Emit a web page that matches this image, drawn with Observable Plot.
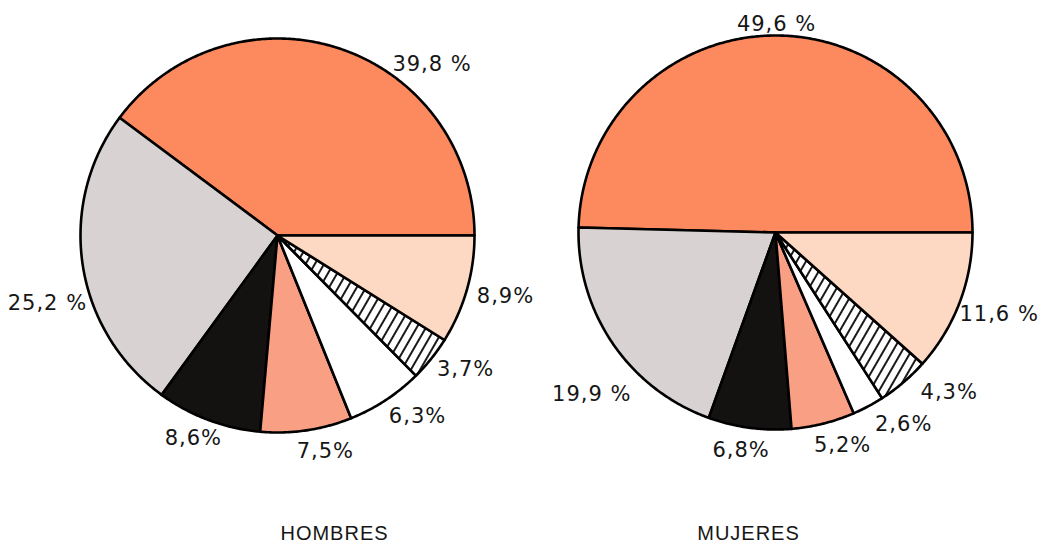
<!DOCTYPE html>
<html><head><meta charset="utf-8">
<script src="https://cdn.jsdelivr.net/npm/d3@7"></script>
<script src="https://cdn.jsdelivr.net/npm/@observablehq/plot@0.6"></script>
<style>
html,body{margin:0;padding:0;background:#fff;}
</style>
</head><body><div id="chart"></div>
<script>
// ---- data ----
const categories = ["naranja", "gris", "negro", "salmón", "blanco", "rayado", "melocotón"];
const hombres = [39.8, 25.2, 8.6, 7.5, 6.3, 3.7, 8.9];
const mujeres = [49.6, 19.9, 6.8, 5.2, 2.6, 4.3, 11.6];
const groupNames = ["HOMBRES", "MUJERES"];
// whether the printed label has a space before "%"
const spacedHombres = [true, true, false, false, false, false, false];
const spacedMujeres = [true, true, false, false, false, false, true];

// ---- styles / layout ----
const sliceColors = ["#fd8a5e", "#d8d2d2", "#141111", "#f9a084", "#ffffff", "url(#hatch)", "#fdd8c2"];
const W = 1039, H = 542;
const pieLayout = [
  {cx: 277, cy: 235, r: 197, titleDx: 57, titleY: 539,
   labelAngle: [48, 196.5, 247.5, 282.5, 307.7, 324.5, 345],
   labelDist:  [231, 240, 220, 221, 229, 231, 236]},
  {cx: 775, cy: 232, r: 197, titleDx: -27, titleY: 539,
   labelAngle: [89.7, 221.4, 261, 287.5, 303.7, 317.4, 340],
   labelDist:  [208, 245, 220, 223, 231, 236, 238]}
];
const series = [hombres, mujeres];
const spaced = [spacedHombres, spacedMujeres];

const fmt = (v, sp) => v.toFixed(1).replace(".", ",") + (sp ? " %" : "%");

const marks = [];
const labels = [];
const titles = [];
series.forEach((vals, g) => {
  const L = pieLayout[g];
  const total = d3.sum(vals);
  let acc = 0;
  vals.forEach((v, i) => {
    const a0 = acc / total * 2 * Math.PI;
    acc += v;
    const a1 = acc / total * 2 * Math.PI;
    const n = Math.max(2, Math.ceil((a1 - a0) / (Math.PI / 360)));
    const pts = [{x: L.cx, y: L.cy}];
    for (let k = 0; k <= n; k++) {
      const t = a0 + (a1 - a0) * k / n;
      pts.push({x: L.cx + L.r * Math.cos(t), y: L.cy - L.r * Math.sin(t)});
    }
    marks.push(Plot.line(pts, {
      x: "x", y: "y", curve: "linear-closed",
      fill: sliceColors[i], stroke: "#000", strokeWidth: 2.6, strokeLinejoin: "round"
    }));
    const la = L.labelAngle[i] * Math.PI / 180;
    labels.push({
      x: L.cx + L.labelDist[i] * Math.cos(la),
      y: L.cy - L.labelDist[i] * Math.sin(la),
      text: fmt(v, spaced[g][i]), category: categories[i]
    });
  });
  titles.push({x: L.cx + L.titleDx, y: L.titleY, text: groupNames[g]});
});

marks.push(Plot.text(labels, {
  x: "x", y: "y", text: "text", fontSize: 21, fontFamily: "DejaVu Sans",
  textAnchor: "middle", lineAnchor: "middle", fill: "#161616"
}));
marks.push(Plot.text(titles, {
  x: "x", y: "y", text: "text", fontSize: 20, fontFamily: "Liberation Sans",
  textAnchor: "middle", lineAnchor: "bottom", fill: "#161616"
}));

const svg = Plot.plot({
  width: W, height: H, margin: 0,
  x: {domain: [0, W], range: [0, W], axis: null},
  y: {domain: [0, H], range: [0, H], axis: null},
  style: "background:#fff;letter-spacing:1px;",
  marks
});

d3.select(svg).insert("defs", ":first-child").html(
  `<pattern id="hatch" patternUnits="userSpaceOnUse" width="8" height="8" patternTransform="rotate(30)">
     <rect width="8" height="8" fill="#fff"/>
     <line x1="4" y1="-1" x2="4" y2="9" stroke="#000" stroke-width="1.8"/>
   </pattern>`
);

document.getElementById("chart").appendChild(svg);
</script>
</body></html>
